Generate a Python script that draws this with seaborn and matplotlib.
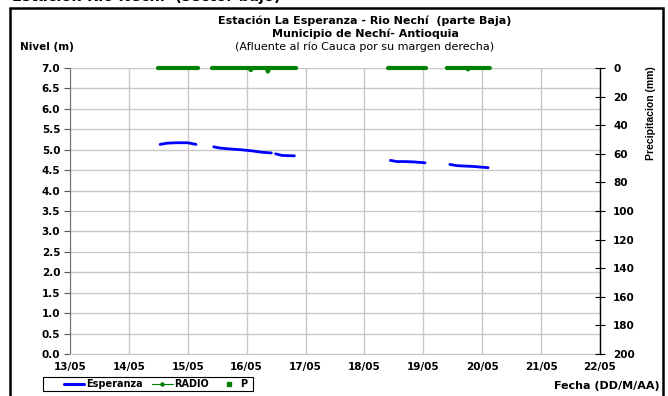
import matplotlib
matplotlib.use("Agg")
import matplotlib.pyplot as plt
from matplotlib.lines import Line2D
from matplotlib.patches import Rectangle
import seaborn as sns
import pandas as pd

# ---- data ----
esp_seg1_x = [14.53, 14.65, 14.80, 15.00, 15.14]
esp_seg1_y = [5.13, 5.16, 5.17, 5.17, 5.13]
esp_seg2_x = [15.44, 15.55, 15.70, 15.90, 16.10, 16.25, 16.42]
esp_seg2_y = [5.07, 5.04, 5.02, 5.00, 4.97, 4.94, 4.92]
esp_seg3_x = [16.49, 16.60, 16.81]
esp_seg3_y = [4.90, 4.86, 4.85]
esp_seg4_x = [18.44, 18.55, 18.70, 18.85, 19.03]
esp_seg4_y = [4.74, 4.71, 4.71, 4.70, 4.68]
esp_seg5_x = [19.45, 19.57, 19.70, 19.85, 20.10]
esp_seg5_y = [4.64, 4.61, 4.60, 4.59, 4.56]

p_seg1_x = [14.49, 15.18]
p_seg1_y = [0, 0]
p_seg2_x = [15.41, 16.05, 16.07, 16.09, 16.34, 16.36, 16.38, 16.84]
p_seg2_y = [0, 0, 1.5, 0, 0, 2.5, 0, 0]
p_seg3_x = [18.40, 19.04]
p_seg3_y = [0, 0]
p_seg4_x = [19.40, 19.75, 19.76, 19.77, 20.13]
p_seg4_y = [0, 0, 1.0, 0, 0]

day_ticks = [13, 14, 15, 16, 17, 18, 19, 20, 21, 22]
day_labels = ["13/05", "14/05", "15/05", "16/05", "17/05",
              "18/05", "19/05", "20/05", "21/05", "22/05"]
nivel_ticks = [0.0, 0.5, 1.0, 1.5, 2.0, 2.5, 3.0, 3.5, 4.0, 4.5, 5.0, 5.5, 6.0, 6.5, 7.0]
precip_ticks = [0, 20, 40, 60, 80, 100, 120, 140, 160, 180, 200]

esp_df = pd.concat([
    pd.DataFrame({"dia": x, "nivel": y, "seg": i})
    for i, (x, y) in enumerate([(esp_seg1_x, esp_seg1_y), (esp_seg2_x, esp_seg2_y),
                                (esp_seg3_x, esp_seg3_y), (esp_seg4_x, esp_seg4_y),
                                (esp_seg5_x, esp_seg5_y)])
])
p_df = pd.concat([
    pd.DataFrame({"dia": x, "p": y, "seg": i})
    for i, (x, y) in enumerate([(p_seg1_x, p_seg1_y), (p_seg2_x, p_seg2_y),
                                (p_seg3_x, p_seg3_y), (p_seg4_x, p_seg4_y)])
])

# ---- figure ----
sns.set_style("white")
plt.rcParams["font.family"] = ["DejaVu Sans"]
plt.rcParams["text.color"] = "black"
plt.rcParams["axes.labelcolor"] = "black"
plt.rcParams["xtick.color"] = "black"
plt.rcParams["ytick.color"] = "black"

W, H = 668, 396
fig = plt.figure(figsize=(6.68, 3.96), dpi=100)
ax = fig.add_axes([70 / W, 1 - 354 / H, 530 / W, 286 / H])

sns.lineplot(data=esp_df, x="dia", y="nivel", units="seg", estimator=None,
             color="#0000ff", lw=2.0, ax=ax, legend=False)

ax.set_xlim(13, 22)
ax.set_ylim(0, 7)
ax.set_xticks(day_ticks)
ax.set_xticklabels(day_labels, fontsize=7.5, fontweight="bold")
ax.set_yticks(nivel_ticks)
ax.set_yticklabels([f"{v:.1f}" for v in nivel_ticks], fontsize=7.5, fontweight="bold")
ax.grid(True, color="#c8c8c8", lw=1)
ax.set_axisbelow(True)
ax.set_xlabel("")
ax.set_ylabel("")
ax.tick_params(axis="x", length=0, pad=6, labelcolor="black")
ax.tick_params(axis="y", direction="out", length=4, color="#555555", pad=3,
               labelcolor="black")
for s in ["top", "right"]:
    ax.spines[s].set_visible(False)
ax.spines["left"].set_color("#707070")
ax.spines["bottom"].set_color("#c8c8c8")

ax2 = ax.twinx()
sns.lineplot(data=p_df, x="dia", y="p", units="seg", estimator=None,
             color="#008000", lw=3.0, ax=ax2, legend=False)
for ln in ax2.lines:
    ln.set_clip_on(False)
ax2.set_ylim(200, 0)
ax2.set_yticks(precip_ticks)
ax2.set_yticklabels([str(v) for v in precip_ticks], fontsize=7.5, fontweight="bold")
ax2.tick_params(axis="y", direction="inout", length=7, color="black", pad=6,
                labelcolor="black")
ax2.set_ylabel("Precipitacion (mm)", fontsize=7.5, fontweight="bold",
               family=["Liberation Sans", "DejaVu Sans"], color="black")
ax2.yaxis.set_label_coords((646 - 70) / 530, (354 - 113) / 286)
ax2.set_xlabel("")
for s in ["top", "left", "bottom"]:
    ax2.spines[s].set_visible(False)
ax2.spines["right"].set_color("black")
ax2.spines["right"].set_linewidth(1)

# ---- texts ----
fig.text(365 / W, 1 - 21 / H, "Estación La Esperanza - Rio Nechí  (parte Baja)",
         ha="center", va="center", fontsize=8, fontweight="bold")
fig.text(365 / W, 1 - 33.5 / H, "Municipio de Nechí- Antioquia",
         ha="center", va="center", fontsize=8, fontweight="bold")
fig.text(365 / W, 1 - 47 / H, "(Afluente al río Cauca por su margen derecha)",
         ha="center", va="center", fontsize=8)
fig.text(20 / W, 1 - 47 / H, "Nivel (m)", ha="left", va="center",
         fontsize=7.5, fontweight="bold")
fig.text(660 / W, 1 - 386 / H, "Fecha (DD/M/AA)", ha="right", va="center",
         fontsize=8, fontweight="bold")
# heading of the source document, cropped at the top edge
fig.text(12 / W, 1 - 1.5 / H, "Estación Río Nechí  (sector bajo)", ha="left",
         va="baseline", fontsize=10.5, fontweight="bold")

# outer frame
fig.patches.append(Rectangle((10 / W, -0.05), 653 / W, 1 - 8 / H + 0.05,
                             transform=fig.transFigure, fill=False,
                             edgecolor="black", lw=1.8))

# legend (frame drawn separately)
fig.patches.append(Rectangle((43 / W, 1 - 391 / H), 210 / W, 14 / H,
                             transform=fig.transFigure, fill=False,
                             edgecolor="black", lw=0.8))
handles = [
    Line2D([], [], color="#0000ff", lw=2.2),
    Line2D([], [], color="#008000", lw=0.8, marker="o", markersize=2.2),
    Line2D([], [], color="#008000", lw=0, marker="s", markersize=2.2),
]
leg = fig.legend(handles, ["Esperanza", "RADIO", "P"], ncol=3,
                 loc="center left", bbox_to_anchor=(64 / W, 1 - 384 / H),
                 frameon=False, prop={"size": 7, "weight": "bold"},
                 handlelength=2.1, handletextpad=0.15, columnspacing=1.0,
                 borderpad=0, borderaxespad=0)

fig.savefig("out.png", dpi=100)
